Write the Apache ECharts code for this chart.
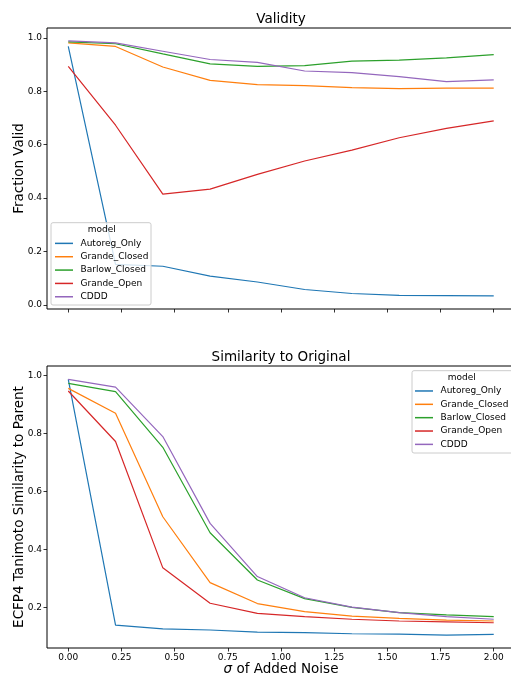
<!DOCTYPE html>
<html>
<head>
<meta charset="utf-8">
<script src="https://cdn.jsdelivr.net/npm/echarts@6/dist/echarts.min.js"></script>
<style>
html,body{margin:0;padding:0;background:#fff;}
#chart{width:511px;height:675px;}
</style>
</head>
<body>
<div id="chart"></div>
<script>
const models = ['Autoreg_Only', 'Grande_Closed', 'Barlow_Closed', 'Grande_Open', 'CDDD'];
const colors = ['#1f77b4', '#ff7f0e', '#2ca02c', '#d62728', '#9467bd'];
const sigma = [0, 0.2222, 0.4444, 0.6667, 0.8889, 1.1111, 1.3333, 1.5556, 1.7778, 2.0];
const xTicks = [0, 0.25, 0.5, 0.75, 1.0, 1.25, 1.5, 1.75, 2.0];
const yTicksTop = [0, 0.2, 0.4, 0.6, 0.8, 1.0];
const yTicksBottom = [0.2, 0.4, 0.6, 0.8, 1.0];

// Validity (fraction valid)
const validAutoreg = [0.968, 0.152, 0.145, 0.108, 0.086, 0.058, 0.043, 0.036, 0.035, 0.034];
const validGrandeClosed = [0.981, 0.968, 0.891, 0.841, 0.825, 0.821, 0.814, 0.810, 0.812, 0.812];
const validBarlowClosed = [0.985, 0.978, 0.940, 0.903, 0.893, 0.896, 0.913, 0.917, 0.925, 0.937];
const validGrandeOpen = [0.893, 0.673, 0.415, 0.434, 0.489, 0.539, 0.580, 0.626, 0.661, 0.689];
const validCDDD = [0.989, 0.981, 0.950, 0.919, 0.908, 0.876, 0.870, 0.855, 0.836, 0.843];

// Similarity to original
const simAutoreg = [0.986, 0.140, 0.127, 0.123, 0.116, 0.114, 0.110, 0.109, 0.105, 0.108];
const simGrandeClosed = [0.955, 0.869, 0.513, 0.286, 0.214, 0.186, 0.171, 0.163, 0.157, 0.154];
const simBarlowClosed = [0.972, 0.944, 0.752, 0.458, 0.295, 0.231, 0.201, 0.183, 0.175, 0.169];
const simGrandeOpen = [0.946, 0.772, 0.337, 0.215, 0.180, 0.169, 0.160, 0.154, 0.151, 0.148];
const simCDDD = [0.986, 0.959, 0.789, 0.490, 0.307, 0.234, 0.202, 0.183, 0.169, 0.160];

const validity = [validAutoreg, validGrandeClosed, validBarlowClosed, validGrandeOpen, validCDDD];
const similarity = [simAutoreg, simGrandeClosed, simBarlowClosed, simGrandeOpen, simCDDD];

const FONT = 'DejaVu Sans';
const pairs = ys => ys.map((y, i) => [sigma[i], y]);

function xAxisDef(gridIndex, showLabels) {
  return {
    type: 'value', gridIndex: gridIndex, min: -0.1, max: 2.1, position: 'bottom',
    axisLine: {show: false, onZero: false},
    splitLine: {show: false},
    axisTick: {show: true, customValues: xTicks, length: 3.5, lineStyle: {color: '#000', width: 0.8}},
    axisLabel: {show: showLabels, customValues: xTicks, margin: 5, fontFamily: FONT, fontSize: 9, color: '#000',
      formatter: v => v.toFixed(2)},
    name: showLabels ? '{i|σ} of Added Noise' : '',
    nameLocation: 'middle', nameGap: 14, nameMoveOverlap: false,
    nameTextStyle: {fontFamily: FONT, fontSize: 13.5, color: '#000', verticalAlign: 'top',
      rich: {i: {fontFamily: FONT, fontSize: 13.5, fontStyle: 'italic', color: '#000'}}}
  };
}
function yAxisDef(gridIndex, min, max, ticks, name) {
  return {
    type: 'value', gridIndex: gridIndex, min: min, max: max, position: 'left',
    axisLine: {show: false, onZero: false},
    splitLine: {show: false},
    axisTick: {show: true, customValues: ticks, length: 3.5, lineStyle: {color: '#000', width: 0.8}},
    axisLabel: {customValues: ticks, margin: 5, fontFamily: FONT, fontSize: 9, color: '#000',
      formatter: v => v.toFixed(1)},
    name: name, nameLocation: 'middle', nameGap: 21, nameMoveOverlap: false,
    nameTextStyle: {fontFamily: FONT, fontSize: 13.5, color: '#000'}
  };
}

const series = [];
models.forEach((m, k) => {
  series.push({name: m, type: 'line', xAxisIndex: 0, yAxisIndex: 0, data: pairs(validity[k]),
    symbol: 'none', lineStyle: {width: 1.2, color: colors[k]}, itemStyle: {color: colors[k]}, z: 2, animation: false});
  series.push({name: m, type: 'line', xAxisIndex: 1, yAxisIndex: 1, data: pairs(similarity[k]),
    symbol: 'none', lineStyle: {width: 1.2, color: colors[k]}, itemStyle: {color: colors[k]}, z: 2, animation: false});
});

function legendDef(left, top) {
  return {
    orient: 'vertical', left: left, top: top, padding: 0, itemGap: 0,
    itemWidth: 18, itemHeight: 1.5, icon: 'rect', z: 20,
    data: models,
    textStyle: {fontFamily: FONT, fontSize: 9, color: '#000', lineHeight: 13.35, padding: [0, 0, 0, 2.5]},
    selectedMode: false
  };
}

const chart = echarts.init(document.getElementById('chart'), null, {renderer: 'canvas'});
chart.setOption({
  backgroundColor: '#fff',
  animation: false,
  color: colors,
  grid: [
    {left: 47, top: 28, height: 281, right: -4, show: true, borderColor: '#000', borderWidth: 1,
      containLabel: false, outerBoundsMode: 'none'},
    {left: 47, top: 366, height: 282, right: -4, show: true, borderColor: '#000', borderWidth: 1,
      containLabel: false, outerBoundsMode: 'none'}
  ],
  xAxis: [xAxisDef(0, false), xAxisDef(1, true)],
  yAxis: [
    yAxisDef(0, -0.015, 1.037, yTicksTop, 'Fraction Valid'),
    yAxisDef(1, 0.061, 1.032, yTicksBottom, 'ECFP4 Tanimoto Similarity to Parent')
  ],
  legend: [legendDef(55, 236.7), legendDef(415, 384.3)],
  graphic: [
    {type: 'text', z: 30, style: {text: 'Validity', x: 281, y: 19, textAlign: 'center', textVerticalAlign: 'middle',
      font: '13.5px "DejaVu Sans"', fill: '#000'}},
    {type: 'text', z: 30, style: {text: 'Similarity to Original', x: 281, y: 357, textAlign: 'center', textVerticalAlign: 'middle',
      font: '13.5px "DejaVu Sans"', fill: '#000'}},
    {type: 'rect', z: 10, shape: {x: 51, y: 222.7, width: 100, height: 82.3, r: 2},
      style: {fill: 'rgba(255,255,255,0.8)', stroke: '#cccccc', lineWidth: 1}},
    {type: 'text', z: 30, style: {text: 'model', x: 101.7, y: 230, textAlign: 'center', textVerticalAlign: 'middle',
      font: '9px "DejaVu Sans"', fill: '#000'}},
    {type: 'rect', z: 10, shape: {x: 412, y: 370.7, width: 104, height: 82.3, r: 2},
      style: {fill: 'rgba(255,255,255,0.8)', stroke: '#cccccc', lineWidth: 1}},
    {type: 'text', z: 30, style: {text: 'model', x: 461.7, y: 377.7, textAlign: 'center', textVerticalAlign: 'middle',
      font: '9px "DejaVu Sans"', fill: '#000'}}
  ],
  series: series
});
</script>
</body>
</html>
